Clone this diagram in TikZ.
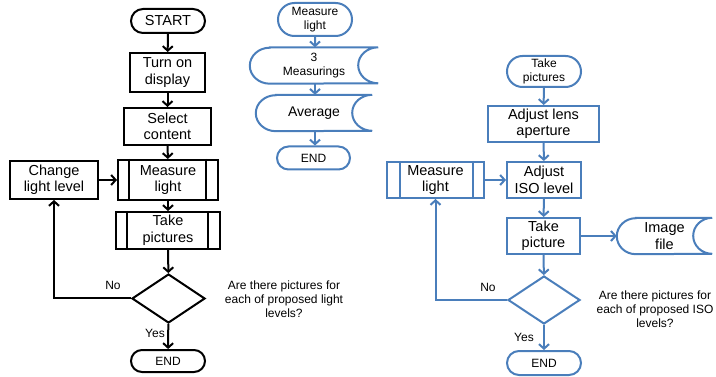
\documentclass[tikz,border=0pt]{standalone}
\usepackage{fontspec}
\setmainfont{Liberation Sans}
\usetikzlibrary{arrows.meta,shapes.misc,shapes.geometric}
\definecolor{ofblue}{RGB}{74,126,187}
\tikzset{
  big/.style={font=\fontsize{14.5}{16.5}\selectfont},
  small/.style={font=\fontsize{12}{14}\selectfont},
  box/.style={rectangle, inner sep=0pt, align=center, big},
  term/.style={rounded rectangle, inner sep=0pt, align=center, small},
  blk/.style={draw=black, line width=2pt},
  blu/.style={draw=ofblue, line width=2pt},
  arr/.style={-{Straight Barb[length=4.5pt,width=10pt]}},
  lbl/.style={inner sep=0pt, align=center, small}
}
% stored-data symbol: convex left end, concave right end
\newcommand{\storedshape}[3]{%
  \draw[#1] ([xshift=#2]#3.north west) -- (#3.north east)
    arc[start angle=90, end angle=270, x radius=#2, y radius=18pt]
    -- ([xshift=#2]#3.south west)
    arc[start angle=270, end angle=90, x radius=#2, y radius=18pt] -- cycle;}
% predefined-process symbol: inner vertical bars
\newcommand{\subbars}[4]{%
  \draw[#1] ([xshift=#2]#4.north west) -- ([xshift=#2]#4.south west);
  \draw[#1] ([xshift=-#3]#4.north east) -- ([xshift=-#3]#4.south east);}
\begin{document}
\begin{tikzpicture}[x=1pt,y=-1pt]
\useasboundingbox (0,0) rectangle (716,377);

% ---------- main procedure ----------
\node[term, blk, big, minimum width=74pt, minimum height=24pt] (start) at (168,21) {START};
\node[box, blk, minimum width=75pt, minimum height=39pt] (turnon) at (167.5,72.5) {Turn on\\display};
\node[box, blk, minimum width=87pt, minimum height=37pt] (select) at (167.5,126.5) {Select\\content};
\node[box, blk, minimum width=100pt, minimum height=40pt] (meas) at (168,180) {Measure\\light};
\subbars{blk}{12pt}{13pt}{meas}
\node[box, blk, minimum width=88pt, minimum height=38pt] (change) at (54,180) {Change\\light level};
\node[box, blk, minimum width=104pt, minimum height=37pt] (take) at (168,230.5) {Take\\pictures};
\subbars{blk}{12pt}{13pt}{take}
\node[diamond, blk, minimum width=73pt, minimum height=49pt, inner sep=0pt] (dec) at (168.5,298.5) {};
\node[term, blk, minimum width=74pt, minimum height=22pt] (end) at (168,361) {END};
\node[lbl] (qleft) at (284,299) {Are there pictures for\\each of proposed light\\levels?};
\node[lbl] (noL) at (113,285) {No};
\node[lbl] (yesL) at (155,333) {Yes};

\draw[blk, arr] (start) -- (turnon);
\draw[blk, arr] (turnon) -- (select);
\draw[blk, arr] (select) -- (meas);
\draw[blk, arr] (change) -- (meas);
\draw[blk, arr] (meas) -- (take);
\draw[blk, arr] (take) -- (dec);
\draw[blk, arr] (dec) -- (end);
\draw[blk, arr] (dec.west) -| (change.south);

% ---------- light measurement ----------
\node[term, blu, minimum width=74pt, minimum height=33pt] (mstart) at (315,19.5) {Measure\\light};
\node[box, small, minimum width=128pt, minimum height=36pt] (mthree) at (314,65.5) {3\\Measurings};
\storedshape{blu}{20pt}{mthree}
\node[box, font=\fontsize{14}{16}\selectfont, minimum width=116pt, minimum height=36pt] (avg) at (314,113) {Average};
\storedshape{blu}{20pt}{avg}
\node[term, blu, minimum width=73pt, minimum height=23pt] (mend) at (313.5,158) {END};

\draw[blu, arr] (mstart) -- (mstart |- mthree.north);
\draw[blu, arr] (mthree.south -| mstart) -- (mstart |- avg.north);
\draw[blu, arr] (avg.south -| mstart) -- (mstart |- mend.north);

% ---------- picture taking ----------
\node[term, blu, minimum width=74pt, minimum height=31pt] (tstart) at (544,71.5) {Take\\pictures};
\node[box, blu, minimum width=111pt, minimum height=36pt] (lens) at (543.5,124) {Adjust lens\\aperture};
\node[box, blu, minimum width=74pt, minimum height=36pt] (iso) at (544,180) {Adjust\\ISO level};
\node[box, blu, minimum width=97pt, minimum height=36pt] (rmeas) at (435.5,180) {Measure\\light};
\subbars{blu}{14pt}{12pt}{rmeas}
\node[box, blu, minimum width=73pt, minimum height=36pt] (tpic) at (543.5,236) {Take\\picture};
\node[box, minimum width=95pt, minimum height=36pt] (img) at (664.5,236) {Image\\file};
\storedshape{blu}{19pt}{img}
\node[diamond, blu, minimum width=72pt, minimum height=48pt, inner sep=0pt] (rdec) at (544,300) {};
\node[term, blu, minimum width=74pt, minimum height=24pt] (rend) at (544,363) {END};
\node[lbl] (qright) at (655,309) {Are there pictures for\\each of proposed ISO\\levels?};
\node[lbl] (noR) at (488,287) {No};
\node[lbl] (yesR) at (524,337) {Yes};

\draw[blu, arr] (tstart) -- (lens);
\draw[blu, arr] (lens) -- (iso);
\draw[blu, arr] (rmeas) -- (iso);
\draw[blu, arr] (iso) -- (tpic);
\draw[blu, arr] (tpic) -- (img.west);
\draw[blu, arr] (tpic) -- (rdec);
\draw[blu, arr] (rdec) -- (rend);
\draw[blu, arr] (rdec.west) -| (rmeas.south);
\end{tikzpicture}
\end{document}
